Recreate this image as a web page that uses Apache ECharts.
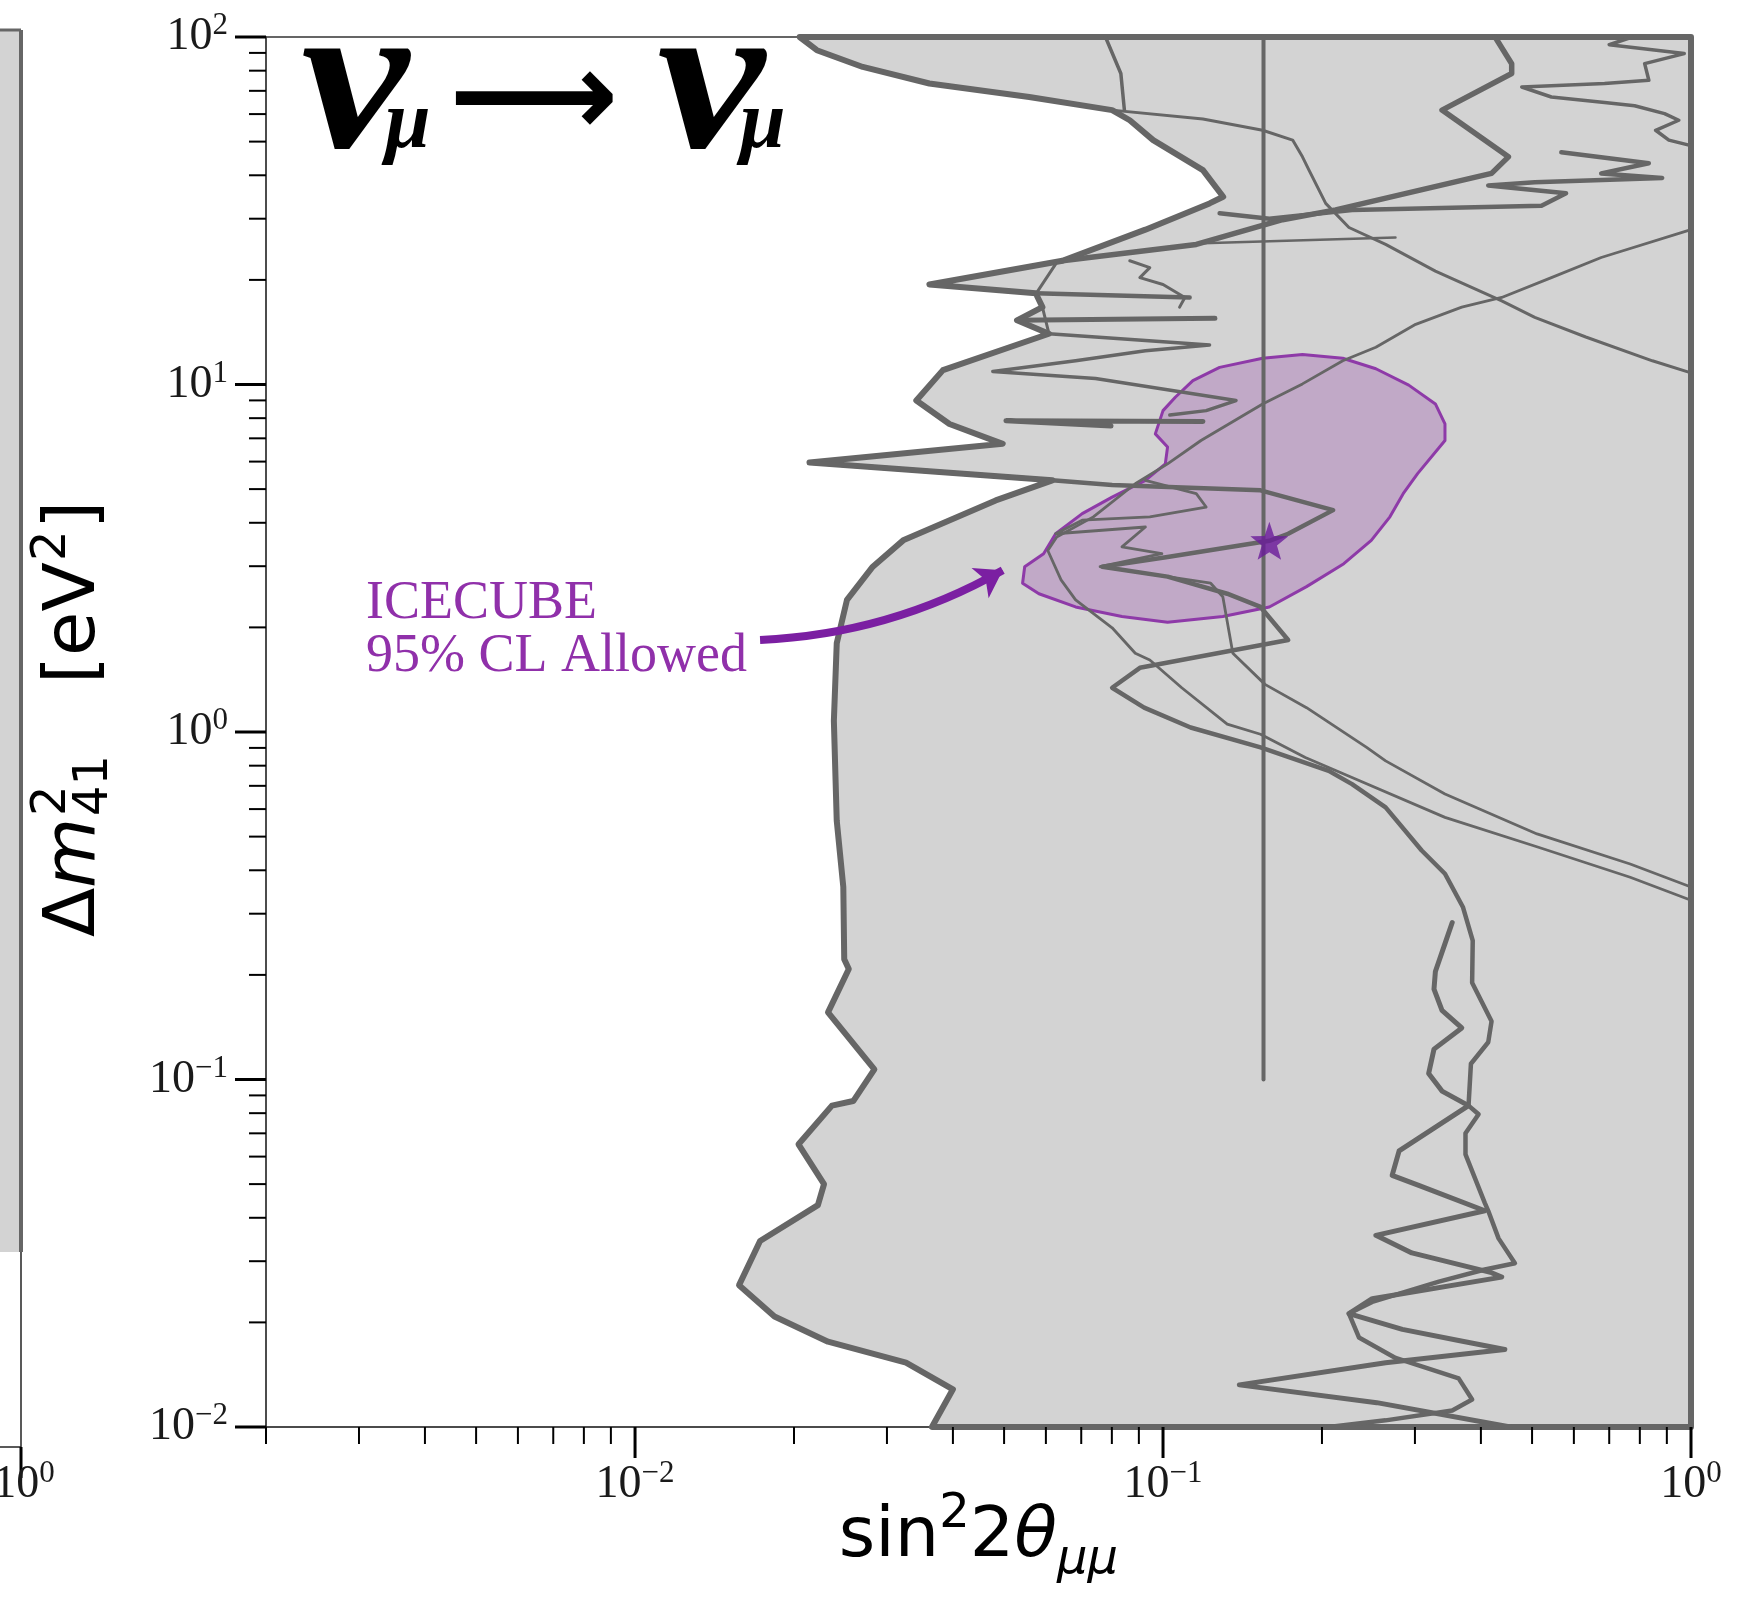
<!DOCTYPE html>
<html><head><meta charset="utf-8">
<script src="https://cdn.jsdelivr.net/npm/echarts@6/dist/echarts.min.js"></script>
<style>html,body{margin:0;padding:0;background:#fff;}#c{width:1738px;height:1612px;}</style>
</head><body><div id="c"></div>
<script>
// ---------------- axis ranges & ticks ----------------
const X_MIN = 0.002, X_MAX = 1, Y_MIN = 0.01, Y_MAX = 100;
const xMajorTicks = [0.01, 0.1, 1];
const xMinorTicks = [0.002,0.003,0.004,0.005,0.006,0.007,0.008,0.009,0.02,0.03,0.04,0.05,0.06,0.07,0.08,0.09,0.2,0.3,0.4,0.5,0.6,0.7,0.8,0.9];
const yMajorTicks = [0.01, 0.1, 1, 10, 100];
const yMinorTicks = [0.02,0.03,0.04,0.05,0.06,0.07,0.08,0.09,0.2,0.3,0.4,0.5,0.6,0.7,0.8,0.9,2,3,4,5,6,7,8,9,20,30,40,50,60,70,80,90];

// ---------------- data: [sin^2 2theta, dm^2 (eV^2)] ----------------
const excludedBoundary = [[0.0205,100],[0.0221,91.6],[0.0270,82.0],[0.0361,73.5],[0.0558,67.2],[0.0801,61.6],[0.0865,57.6],[0.0958,50.5],[0.119,41.4],[0.130,34.7],[0.1225,33.2],[0.0926,27.9],[0.0645,22.7],[0.0361,19.4],[0.0574,18.3],[0.0591,16.7],[0.0529,15.3],[0.0608,14.0],[0.0383,11.0],[0.0341,8.99],[0.0394,7.70],[0.0497,6.75],[0.0214,5.96],[0.0617,5.30],[0.0482,4.64],[0.0322,3.56],[0.0282,2.99],[0.0252,2.40],[0.0241,1.80],[0.0238,1.076],[0.0241,0.556],[0.0248,0.358],[0.0249,0.222],[0.0254,0.208],[0.0232,0.156],[0.0284,0.107],[0.0259,0.0867],[0.0236,0.0841],[0.0204,0.0651],[0.0228,0.0500],[0.0222,0.0435],[0.01725,0.0343],[0.01574,0.0256],[0.01837,0.0208],[0.0232,0.0176],[0.0326,0.01531],[0.0400,0.01284],[0.0365,0.01],[1,0.01],[1,100]];
const curveC1 = [[0.0801,61.6],[0.119,58.1],[0.1544,53.9],[0.176,50.5],[0.1837,45.2],[0.189,41.4],[0.2033,33.2],[0.225,28.3],[0.264,25.3],[0.328,21.2],[0.438,17.4],[0.506,15.6],[0.632,13.7],[0.845,11.7],[1,10.8]];
const curveT2 = [[0.0778,100],[0.0832,78.5],[0.0845,61.6]];
const curveZ1 = [[0.4255,100],[0.4575,83.8],[0.4575,78.5],[0.3376,61.6],[0.451,45.2],[0.419,40.5],[0.2123,31.8],[0.1684,29.8],[0.1156,25.3],[0.0645,22.7]];
const curveZ3 = [[0.774,100],[0.700,95.0],[0.971,89.6],[0.817,83.8],[0.832,75.1],[0.686,73.5],[0.478,71.8],[0.544,67.2],[0.686,64.8],[0.782,63.4],[0.891,60.2],[0.948,57.6],[0.857,53.9],[0.908,50.5],[1,48.7]];
const curveH = [[0.568,46.6],[0.832,43.3],[0.676,40.5],[0.882,39.3],[0.506,38.2],[0.413,37.4],[0.580,35.5],[0.521,32.7],[0.228,31.8],[0.159,30.0],[0.128,31.1]];
const curveH2 = [[0.119,25.5],[0.2756,26.5]];
const curveSB = [[0.0574,18.3],[0.1123,17.8]];
const curveZA = [[0.0865,22.7],[0.0944,21.7],[0.0904,20.3],[0.1,19.4],[0.110,17.8],[0.1075,16.7]];
const curveS1 = [[0.0529,15.3],[0.1254,15.5]];
const curveZB = [[0.0608,14.0],[0.0745,13.7],[0.1225,13.0],[0.0926,12.5],[0.0683,11.7],[0.0476,10.9],[0.0745,10.4],[0.1375,8.99],[0.1207,8.41],[0.103,8.17]];
const curveZC = [[0.119,7.82],[0.0504,7.87],[0.0797,7.59]];
const curveZD = [[0.0626,22.2],[0.0574,18.2],[0.0591,16.7],[0.0608,14.0]];
const curveZE = [[0.0926,5.30],[0.1156,4.85],[0.1207,4.44],[0.0944,4.16],[0.0703,4.07],[0.0626,3.72],[0.0926,3.89],[0.0836,3.41],[0.0995,3.26],[0.0760,2.99],[0.102,2.80],[0.1231,2.68],[0.1298,2.45],[0.1356,1.685],[0.156,1.371],[0.187,1.175],[0.243,0.903],[0.264,0.826],[0.342,0.663],[0.511,0.509],[0.767,0.417],[1,0.358]];
const curveC3 = [[1,27.9],[0.676,23.2],[0.544,20.3],[0.438,17.8],[0.368,16.7],[0.301,14.9],[0.253,12.8],[0.219,11.7],[0.1837,10.04],[0.1544,8.79],[0.118,6.90],[0.102,5.91],[0.0886,5.18],[0.0738,4.16],[0.0629,3.64],[0.0605,3.33],[0.0641,2.74],[0.0683,2.40],[0.0801,1.995],[0.0886,1.685],[0.0944,1.612],[0.1085,1.341],[0.1323,1.053],[0.153,0.985],[0.186,0.845],[0.228,0.740],[0.342,0.568],[0.514,0.466],[0.767,0.382],[1,0.328]];
const curveT3 = [[0.0214,5.96],[0.0617,5.30],[0.0801,5.14],[0.153,4.96],[0.210,4.35],[0.1726,3.72],[0.159,3.55],[0.102,3.19],[0.0767,2.99],[0.102,2.80],[0.1323,2.50],[0.153,2.29],[0.1726,1.84],[0.0904,1.53],[0.0801,1.341],[0.0921,1.175],[0.1128,1.030],[0.153,0.903],[0.206,0.773],[0.228,0.708],[0.264,0.607],[0.309,0.456],[0.342,0.391],[0.370,0.313],[0.386,0.251],[0.385,0.190],[0.419,0.147],[0.413,0.128],[0.383,0.111],[0.379,0.0841],[0.396,0.0794],[0.374,0.0700],[0.374,0.0609],[0.407,0.0441],[0.413,0.0419],[0.432,0.0349],[0.464,0.0296],[0.407,0.0284],[0.333,0.0262],[0.249,0.0229],[0.225,0.0212],[0.235,0.0181],[0.2756,0.0158],[0.363,0.0138],[0.385,0.0120],[0.353,0.01116],[0.264,0.01045],[0.206,0.01]];
const curveZ4 = [[0.353,0.283],[0.342,0.246],[0.328,0.2046],[0.326,0.182],[0.3376,0.158],[0.368,0.1407],[0.326,0.1223],[0.3185,0.1041],[0.3376,0.0926],[0.379,0.0841],[0.280,0.0623],[0.2716,0.0530],[0.305,0.0496],[0.407,0.0419],[0.253,0.0356],[0.296,0.0317],[0.419,0.0278],[0.438,0.0270],[0.249,0.0234],[0.225,0.0212],[0.284,0.0191],[0.363,0.01773],[0.444,0.01672],[0.264,0.01531],[0.1395,0.01322],[0.254,0.01175],[0.455,0.01]];
const verticalLine = [[0.155,0.1],[0.155,100]];
const icecubeContour = [[0.0542,2.68],[0.0547,2.99],[0.0594,3.26],[0.0626,3.72],[0.0703,4.25],[0.0801,4.74],[0.0926,5.30],[0.101,5.91],[0.102,6.61],[0.0967,7.21],[0.1,8.41],[0.1055,9.19],[0.1139,10.26],[0.128,11.2],[0.1544,11.9],[0.1837,12.2],[0.219,11.9],[0.253,11.1],[0.292,9.96],[0.328,8.79],[0.342,7.70],[0.342,6.90],[0.3035,5.54],[0.285,4.85],[0.269,4.16],[0.248,3.56],[0.220,3.05],[0.187,2.62],[0.159,2.29],[0.1298,2.15],[0.102,2.07],[0.0836,2.15],[0.0683,2.29],[0.0582,2.50]];
const icecubeBestFit = [[0.159,3.55]];
const arrowCoords = [[0.01725,1.84],[0.0497,2.92]];

// ---------------- helpers ----------------
const GRAY = '#666666';
function lineSeries(name, data, w) {
  return {type:'line', name, data, symbol:'none', showSymbol:false, silent:true, z:4,
    lineStyle:{color:GRAY, width:w, join:'round', cap:'round'}};
}
function polygonSeries(name, pts, style, z) {
  return {type:'custom', name, coordinateSystem:'cartesian2d', data: pts, z, silent:true,
    renderItem: (params, api) => {
      if (params.dataIndex !== 0) return null;
      return {type:'polygon', shape:{points: pts.map(p => api.coord(p))}, style};
    }};
}
function tickSeries(vals, axis, len, w) {
  return {type:'custom', coordinateSystem:'cartesian2d', silent:true, z:10, clip:false,
    data: vals.map(v => axis === 'x' ? [v, Y_MIN] : [X_MIN, v]),
    renderItem: (params, api) => {
      const p = api.coord([api.value(0), api.value(1)]);
      const shape = axis === 'x' ? {x1:p[0], y1:p[1], x2:p[0], y2:p[1] + len}
                                 : {x1:p[0] - len, y1:p[1], x2:p[0], y2:p[1]};
      return {type:'line', shape, style:{stroke:'#000', lineWidth:w}};
    }};
}
function powLabel(v) {
  const l = Math.log10(v), e = Math.round(l);
  if (Math.abs(l - e) > 1e-6) return '';
  return '{b|10}{s|' + (e < 0 ? '\u2212' + (-e) : e) + '}';
}
const tickRich = {
  b:{fontFamily:'Liberation Serif', fontSize:46, lineHeight:53, color:'#1a1a1a', verticalAlign:'middle'},
  s:{fontFamily:'Liberation Serif', fontSize:31, lineHeight:31, color:'#1a1a1a', verticalAlign:'top'}
};
const starPath = 'path://M0,-10L2.35,-3.24L9.51,-3.09L3.8,1.24L5.88,8.09L0,4.5L-5.88,8.09L-3.8,1.24L-9.51,-3.09L-2.35,-3.24Z';

const chart = echarts.init(document.getElementById('c'), null, {renderer:'canvas', width:1738, height:1612});
const sansBig = {fontFamily:'DejaVu Sans', fontSize:72, fill:'#000', align:'left', verticalAlign:'middle'};
const sansSmall = {fontFamily:'DejaVu Sans', fontSize:48, fill:'#000', align:'left', verticalAlign:'middle'};
const titleFont = {fontFamily:'Liberation Serif', fontStyle:'italic', fontWeight:'bold', fill:'#000', align:'left', verticalAlign:'middle'};

chart.setOption({
  animation:false,
  backgroundColor:'#ffffff',
  grid:{left:266, top:37, width:1425, height:1390, containLabel:false},
  xAxis:[{
    type:'log', logBase:10, min:X_MIN, max:X_MAX, position:'bottom',
    axisLine:{show:true, onZero:false, lineStyle:{color:'#111', width:1.5}},
    axisTick:{show:false}, minorTick:{show:false}, splitLine:{show:false},
    axisLabel:{margin:31, formatter:powLabel, rich:tickRich},
    name:'{n|sin}{p|2}{n|2}{i|\u03b8}{b|\u03bc\u03bc}', nameLocation:'middle', nameGap:64, nameMoveOverlap:false,
    nameTextStyle:{rich:{
      n:{fontFamily:'DejaVu Sans', fontSize:70, lineHeight:94, color:'#000', verticalAlign:'middle'},
      i:{fontFamily:'DejaVu Sans', fontStyle:'italic', fontSize:70, lineHeight:94, color:'#000', verticalAlign:'middle'},
      p:{fontFamily:'DejaVu Sans', fontSize:48, lineHeight:48, color:'#000', verticalAlign:'top'},
      b:{fontFamily:'DejaVu Sans', fontStyle:'italic', fontSize:48, lineHeight:48, color:'#000', verticalAlign:'bottom'}
    }}
  },{
    type:'log', logBase:10, min:X_MIN, max:X_MAX, position:'top',
    axisLine:{show:true, onZero:false, lineStyle:{color:'#333', width:1.5}},
    axisTick:{show:false}, axisLabel:{show:false}, splitLine:{show:false}
  }],
  yAxis:{
    type:'log', logBase:10, min:Y_MIN, max:Y_MAX,
    axisLine:{show:true, onZero:false, lineStyle:{color:'#111', width:1.5}},
    axisTick:{show:false}, minorTick:{show:false}, splitLine:{show:false},
    axisLabel:{margin:38, formatter:powLabel, rich:tickRich}
  },
  series:[
    polygonSeries('Excluded region', excludedBoundary, {fill:'#d3d3d3', stroke:GRAY, lineWidth:6, lineJoin:'round'}, 1),
    polygonSeries('ICECUBE 95% CL', icecubeContour, {fill:'#c1a9c7', stroke:'#8e3aa8', lineWidth:3, lineJoin:'round'}, 2),
    lineSeries('C1', curveC1, 3),
    lineSeries('T2', curveT2, 3.5),
    lineSeries('Z1', curveZ1, 5.5),
    lineSeries('Z3', curveZ3, 3.5),
    lineSeries('H', curveH, 4.5),
    lineSeries('H2', curveH2, 2.5),
    lineSeries('SB', curveSB, 4.5),
    lineSeries('ZA', curveZA, 3),
    lineSeries('S1', curveS1, 5),
    lineSeries('ZB', curveZB, 3.5),
    lineSeries('ZC', curveZC, 5),
    lineSeries('ZD', curveZD, 3),
    lineSeries('ZE', curveZE, 2.8),
    lineSeries('C3', curveC3, 2.8),
    lineSeries('T3', curveT3, 4.5),
    lineSeries('Z4', curveZ4, 5),
    lineSeries('Vertical', verticalLine, 4),
    {type:'scatter', name:'Best fit', data:icecubeBestFit, symbol:starPath, symbolSize:38, z:8, silent:true,
      itemStyle:{color:'#6a1b9a'}},
    {type:'lines', coordinateSystem:'cartesian2d', z:8, silent:true,
      data:[{coords:arrowCoords}], symbol:['none','arrow'], symbolSize:[1, 26],
      lineStyle:{color:'#7b1fa2', width:8, curveness:-0.12, opacity:1}},
    tickSeries(xMajorTicks, 'x', 31, 3),
    tickSeries(xMinorTicks, 'x', 17, 2),
    tickSeries(yMajorTicks, 'y', 31, 3),
    tickSeries(yMinorTicks, 'y', 17, 2)
  ],
  graphic:[
    // partial neighbouring panel at the far left
    {type:'rect', shape:{x:0, y:30, width:21, height:1222}, style:{fill:'#d3d3d3'}, z:0, silent:true},
    {type:'line', shape:{x1:21, y1:30, x2:21, y2:1252}, style:{stroke:GRAY, lineWidth:4}, silent:true},
    {type:'line', shape:{x1:0, y1:30, x2:21, y2:30}, style:{stroke:GRAY, lineWidth:3}, silent:true},
    {type:'line', shape:{x1:21, y1:1252, x2:21, y2:1447}, style:{stroke:'#222', lineWidth:1.5}, silent:true},
    {type:'line', shape:{x1:0, y1:1447, x2:21, y2:1447}, style:{stroke:'#222', lineWidth:1.5}, silent:true},
    {type:'line', shape:{x1:21, y1:1447, x2:21, y2:1478}, style:{stroke:'#000', lineWidth:3}, silent:true},
    {type:'text', x:24, y:1458, silent:true, style:{text:'{b|10}{s|0}', align:'center', verticalAlign:'top', rich:{
      b:{fontFamily:'Liberation Serif', fontSize:46, lineHeight:53, fill:'#1a1a1a', verticalAlign:'middle'},
      s:{fontFamily:'Liberation Serif', fontSize:31, lineHeight:31, fill:'#1a1a1a', verticalAlign:'top'}}}},
    // title nu_mu -> nu_mu
    {type:'text', x:301, y:91, scaleX:1.13, silent:true, style:Object.assign({}, titleFont, {text:'\u03bd', fontSize:215})},
    {type:'text', x:385, y:126, silent:true, style:Object.assign({}, titleFont, {text:'\u03bc', fontSize:82})},
    {type:'text', x:449, y:104, silent:true, style:{text:'\u27f6', fontFamily:'DejaVu Sans', fontWeight:'bold', fontSize:118, fill:'#000', align:'left', verticalAlign:'middle'}},
    {type:'text', x:657, y:91, scaleX:1.13, silent:true, style:Object.assign({}, titleFont, {text:'\u03bd', fontSize:215})},
    {type:'text', x:740, y:126, silent:true, style:Object.assign({}, titleFont, {text:'\u03bc', fontSize:82})},
    // ICECUBE annotation
    {type:'text', x:366, y:604, silent:true, style:{text:'ICECUBE', fontFamily:'Liberation Serif', fontSize:54, fill:'#9030aa', align:'left', verticalAlign:'middle'}},
    {type:'text', x:366, y:657, silent:true, style:{text:'95% CL Allowed', fontFamily:'Liberation Serif', fontSize:54, fill:'#9030aa', align:'left', verticalAlign:'middle'}},
    // y axis title (rotated)
    {type:'group', x:75, y:732, rotation:Math.PI/2, silent:true, children:[
      {type:'text', x:-205, y:0, style:Object.assign({}, sansBig, {text:'\u0394'})},
      {type:'text', x:-156, y:0, style:Object.assign({}, sansBig, {text:'m', fontStyle:'italic'})},
      {type:'text', x:-84, y:-22, style:Object.assign({}, sansSmall, {text:'2'})},
      {type:'text', x:-84, y:20, style:Object.assign({}, sansSmall, {text:'41'})},
      {type:'text', x:48, y:0, style:Object.assign({}, sansBig, {text:'[eV'})},
      {type:'text', x:171, y:-22, style:Object.assign({}, sansSmall, {text:'2'})},
      {type:'text', x:203, y:0, style:Object.assign({}, sansBig, {text:']'})}
    ]}
  ]
});
</script></body></html>
